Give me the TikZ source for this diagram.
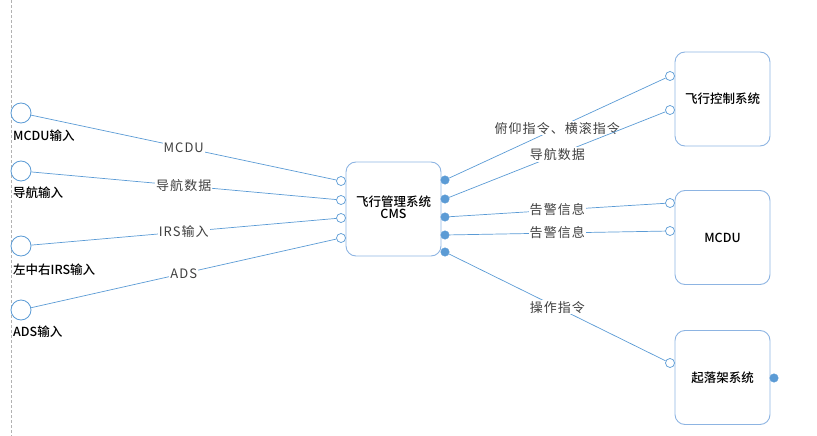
\documentclass[tikz,border=0pt]{standalone}
\usepackage{fontspec}
\setmainfont{Noto Sans CJK SC}
\newfontfamily\lblfont[LetterSpace=8]{Noto Sans CJK SC}
\newfontfamily\boxfont{Noto Sans CJK SC Medium}
\usetikzlibrary{calc}
\definecolor{lineblue}{HTML}{5B9BD5}
\definecolor{boxblue}{HTML}{8DB4E2}
\definecolor{lbl}{HTML}{404040}
\tikzset{
  sysbox/.style={draw=boxblue, line width=0.9pt, rounded corners=10pt, minimum width=95pt, minimum height=94pt, inner sep=0pt, font=\boxfont\fontsize{12.5}{14}\selectfont, text=black},
  inport/.style={circle, draw=lineblue, fill=white, line width=0.7pt, minimum size=9pt, inner sep=0pt},
  outport/.style={circle, fill=lineblue, draw=lineblue, line width=0.4pt, minimum size=8.5pt, inner sep=0pt},
  srccircle/.style={circle, draw=lineblue, fill=white, line width=0.8pt, minimum size=20pt, inner sep=0pt},
  conn/.style={draw=lineblue, line width=0.7pt},
  connlbl/.style={fill=white, inner sep=1pt, text=lbl, font=\lblfont\fontsize{13}{15}\selectfont},
  srclbl/.style={anchor=west, inner sep=0pt, text=black, font=\boxfont\fontsize{12.5}{14}\selectfont}
}
\begin{document}
\begin{tikzpicture}[x=1pt,y=-1pt]
\useasboundingbox (0,0) rectangle (817,436);
\draw[gray!60, line width=0.7pt, dash pattern=on 3pt off 2pt] (11.5,0) -- (11.5,436);

% source circles
\node[srccircle] (s1) at (21,113) {};
\node[srccircle] (s2) at (21,171) {};
\node[srccircle] (s3) at (21,246) {};
\node[srccircle] (s4) at (21,310) {};
\node[srclbl] (t1) at (13,136) {MCDU输入};
\node[srclbl] (t2) at (13,193) {导航输入};
\node[srclbl] (t3) at (13,270) {左中右IRS输入};
\node[srclbl] (t4) at (13,332) {ADS输入};

% CMS
\node[sysbox] (cms) at (393.5,209) {\begin{tabular}{@{}c@{}}飞行管理系统\\[-2pt]CMS\end{tabular}};
\node[inport] (i1) at (341,181) {};
\node[inport] (i2) at (341,200) {};
\node[inport] (i3) at (341,218) {};
\node[inport] (i4) at (341,238) {};
\node[outport] (o1) at (445,180) {};
\node[outport] (o2) at (445,199) {};
\node[outport] (o3) at (445,217) {};
\node[outport] (o4) at (445,235) {};
\node[outport] (o5) at (445,252) {};

% right systems
\node[sysbox] (fcs) at (722.5,99) {飞行控制系统};
\node[sysbox] (mcdu) at (722.5,237.5) {MCDU};
\node[sysbox] (lg) at (722.5,377.5) {起落架系统};
\node[inport] (f1) at (670,76) {};
\node[inport] (f2) at (670,110) {};
\node[inport] (m1) at (670,203) {};
\node[inport] (m2) at (670,231) {};
\node[inport] (g1) at (670,363) {};
\node[outport] (g2) at (774,378) {};

% left connectors
\draw[conn] (s1) -- node[connlbl] {MCDU} (i1);
\draw[conn] (s2) -- node[connlbl] {导航数据} (i2);
\draw[conn] (s3) -- node[connlbl] {IRS输入} (i3);
\draw[conn] (s4) -- node[connlbl] {ADS} (i4);

% right connectors
\draw[conn] (o1) -- node[connlbl] {俯仰指令、横滚指令} (f1);
\draw[conn] (o2) -- node[connlbl] {导航数据} (f2);
\draw[conn] (o3) -- node[connlbl] {告警信息} (m1);
\draw[conn] (o4) -- node[connlbl] {告警信息} (m2);
\draw[conn] (o5) -- node[connlbl] {操作指令} (g1);
\end{tikzpicture}
\end{document}
